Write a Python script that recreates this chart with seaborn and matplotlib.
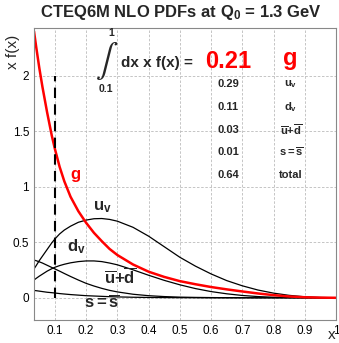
import matplotlib
matplotlib.use("Agg")
import matplotlib.pyplot as plt
import seaborn as sns
import pandas as pd
from matplotlib.ticker import MultipleLocator

# ---- data ----
x_vals = [0.033, 0.04, 0.05, 0.06, 0.075, 0.09, 0.1, 0.115, 0.13, 0.15, 0.175, 0.2,
          0.225, 0.25, 0.275, 0.3, 0.35, 0.4, 0.45, 0.5, 0.55, 0.6, 0.65, 0.7,
          0.75, 0.8, 0.85, 0.9, 0.95, 1.0]
g_vals = [2.40, 2.26, 2.07, 1.90, 1.67, 1.46, 1.34, 1.18, 1.05, 0.91, 0.78, 0.675,
          0.585, 0.51, 0.44, 0.385, 0.30, 0.235, 0.188, 0.15, 0.122, 0.097, 0.076, 0.057,
          0.039, 0.024, 0.012, 0.005, 0.0015, 0.0]
uv_vals = [0.26, 0.29, 0.335, 0.375, 0.435, 0.495, 0.53, 0.575, 0.61, 0.645, 0.68, 0.70,
           0.712, 0.714, 0.706, 0.69, 0.635, 0.555, 0.46, 0.365, 0.285, 0.215, 0.155, 0.108,
           0.07, 0.042, 0.022, 0.009, 0.003, 0.0]
dv_vals = [0.16, 0.175, 0.195, 0.213, 0.24, 0.262, 0.275, 0.29, 0.302, 0.315, 0.326, 0.332,
           0.332, 0.326, 0.313, 0.297, 0.252, 0.203, 0.157, 0.117, 0.083, 0.056, 0.036, 0.021,
           0.011, 0.005, 0.002, 0.001, 0.0, 0.0]
ubdb_vals = [0.34, 0.334, 0.324, 0.313, 0.293, 0.273, 0.26, 0.24, 0.219, 0.192, 0.16, 0.13,
             0.106, 0.085, 0.067, 0.053, 0.032, 0.019, 0.011, 0.006, 0.0035, 0.002, 0.001, 0.0005,
             0.0, 0.0, 0.0, 0.0, 0.0, 0.0]
s_vals = [0.066, 0.064, 0.06, 0.056, 0.05, 0.046, 0.043, 0.038, 0.034, 0.029, 0.024, 0.019,
          0.016, 0.013, 0.010, 0.008, 0.005, 0.003, 0.002, 0.001, 0.0005, 0.0, 0.0, 0.0,
          0.0, 0.0, 0.0, 0.0, 0.0, 0.0]

table_values = ["0.29", "0.11", "0.03", "0.01", "0.64"]
table_labels = [r"$\mathbf{u}_\mathbf{v}$", r"$\mathbf{d}_\mathbf{v}$",
                r"$\mathbf{\overline{u}{+}\overline{d}}$", r"$\mathbf{s{=}\overline{s}}$", "total"]
g_integral = "0.21"
x_ticks = [0.1, 0.2, 0.3, 0.4, 0.5, 0.6, 0.7, 0.8, 0.9, 1.0]
x_ticklabels = ["0.1", "0.2", "0.3", "0.4", "0.5", "0.6", "0.7", "0.8", "0.9", "1"]
y_ticks = [0, 0.5, 1, 1.5, 2]
y_ticklabels = ["0", "0.5", "1", "1.5", "2"]

sns.set_style("white")
plt.rcParams['font.family'] = ['Liberation Sans', 'DejaVu Sans']
plt.rcParams['mathtext.fontset'] = 'custom'
plt.rcParams['mathtext.rm'] = 'Liberation Sans'
plt.rcParams['mathtext.bf'] = 'Liberation Sans:bold'
plt.rcParams['mathtext.it'] = 'Liberation Sans:italic'

W, H = 339, 343
fig = plt.figure(figsize=(W / 100, H / 100), dpi=100)
ax = fig.add_axes([34 / W, 1 - 320 / H, (336 - 34) / W, (320 - 28) / H])

df = pd.DataFrame({"x": x_vals, "g": g_vals, "uv": uv_vals, "dv": dv_vals,
                   "ubdb": ubdb_vals, "s": s_vals})

for col in ["uv", "dv", "ubdb", "s"]:
    sns.lineplot(data=df, x="x", y=col, ax=ax, color="black", lw=0.9, legend=False)
sns.lineplot(data=df, x="x", y="g", ax=ax, color="#ff0000", lw=1.8, legend=False)

# dashed vertical line at lower integration limit
ax.plot([0.1, 0.1], [0, 2.0], color="black", lw=1.5, ls=(0, (5, 3)))

ax.set_xlim(0.033, 1.0)
ax.set_ylim(-0.2, 2.43)
ax.set_xticks(x_ticks)
ax.set_xticklabels(x_ticklabels)
ax.set_yticks(y_ticks)
ax.set_yticklabels(y_ticklabels)
ax.xaxis.set_minor_locator(MultipleLocator(0.02))
ax.tick_params(axis="both", which="major", direction="in", length=6, width=0.6,
               labelsize=8.5, colors="#555555", labelcolor="black")
ax.tick_params(axis="x", which="minor", direction="in", length=3, width=0.6, colors="#555555")
ax.set_xlabel("")
ax.set_ylabel("")
ax.grid(True, which="major", color="#bbbbbb", ls=(0, (3, 2)), lw=0.6)
for sp in ax.spines.values():
    sp.set_color("#888888")
    sp.set_linewidth(0.8)


def ftxt(px, py, s, **kw):
    fig.text(px / W, 1 - py / H, s, **kw)


# curve labels
ftxt(75, 174, "g", color="#ff0000", fontsize=12, fontweight="bold", ha="center", va="center")
ftxt(102, 207, r"$\mathbf{u}_\mathbf{v}$", fontsize=12, ha="center", va="center")
ftxt(76, 247, r"$\mathbf{d}_\mathbf{v}$", fontsize=12, ha="center", va="center")
ftxt(120, 276, r"$\mathbf{\overline{u}{+}\overline{d}}$", fontsize=12, ha="center", va="center")
ftxt(102, 302, r"$\mathbf{s{=}\overline{s}}$", fontsize=12, ha="center", va="center")

# title and axis labels
ftxt(181, 12, r"CTEQ6M NLO PDFs at Q$_\mathbf{0}$ = 1.3 GeV", fontsize=12,
     fontweight="bold", ha="center", va="center")
ftxt(13, 52, "x f(x)", fontsize=11, rotation=90, ha="center", va="center")
ftxt(332, 335, "x", fontsize=11, ha="center", va="center")

# integral expression
ftxt(107, 60, r"$\int$", fontsize=24, math_fontfamily="stix", ha="center", va="center")
ftxt(111, 33, "1", fontsize=7.5, fontweight="bold", ha="center", va="center")
ftxt(106, 89, "0.1", fontsize=7.5, fontweight="bold", ha="center", va="center")
ftxt(157, 63, "dx x f(x) =", fontsize=11, fontweight="bold", ha="center", va="center")
ftxt(228, 62, g_integral, color="#ff0000", fontsize=17, fontweight="bold", ha="center", va="center")
ftxt(290, 58, "g", color="#ff0000", fontsize=17, fontweight="bold", ha="center", va="center")

ys = [84, 107, 130, 152, 175]
for yv, val, lab in zip(ys, table_values, table_labels):
    ftxt(228, yv, val, fontsize=8, fontweight="bold", ha="center", va="center")
    ftxt(291, yv, lab, fontsize=8, fontweight="bold", ha="center", va="center")

fig.savefig("out.png", dpi=100)
